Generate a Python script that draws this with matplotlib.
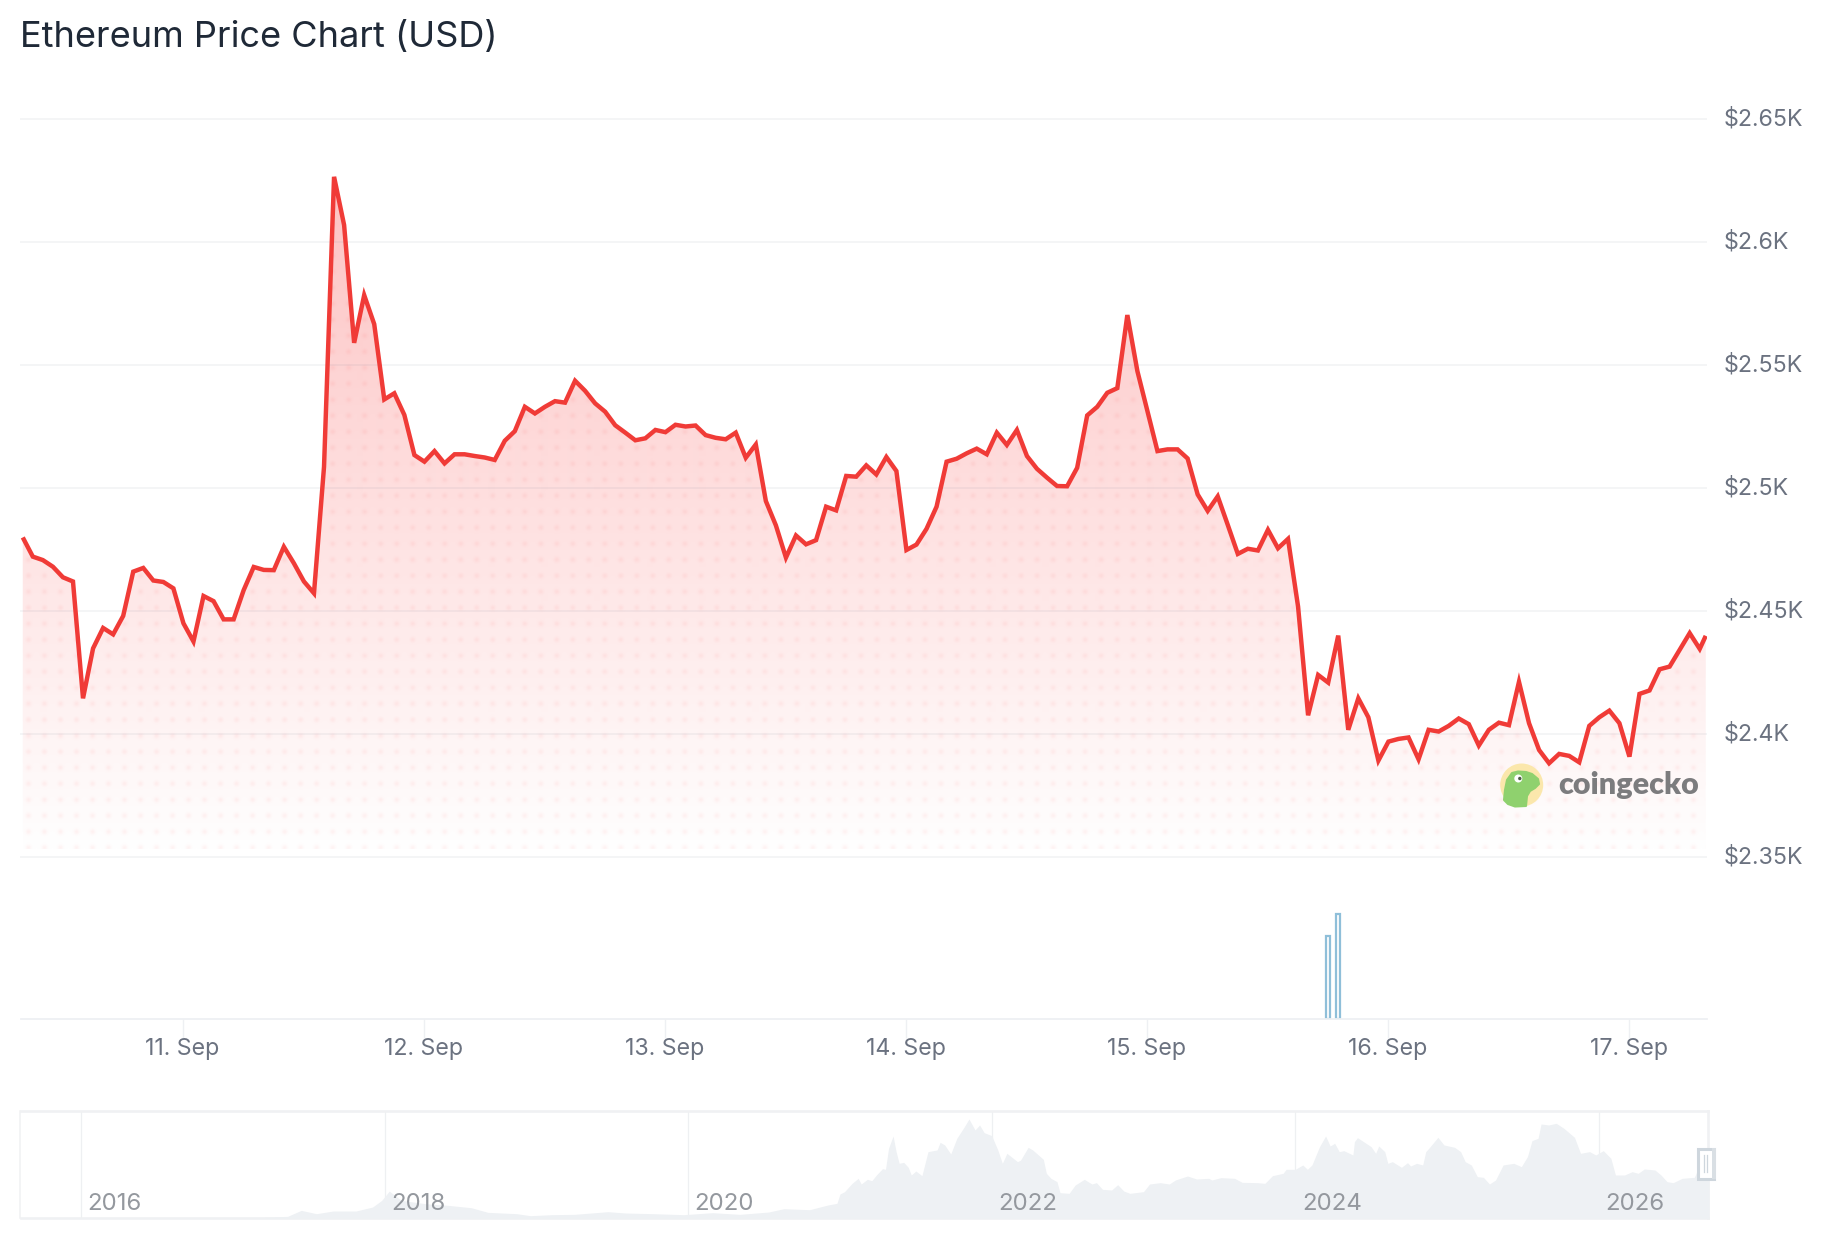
import numpy as np
import pandas as pd
import matplotlib
matplotlib.use("Agg")
import matplotlib.pyplot as plt
import matplotlib.dates as mdates
from matplotlib.path import Path
from matplotlib.patches import PathPatch, Circle, Polygon, Rectangle
from matplotlib.transforms import ScaledTranslation

plt.rcParams['font.family'] = ['Inter', 'DejaVu Sans']

# ---------- data ----------
title = "Ethereum Price Chart (USD)"
price_start = "2026-09-10 08:05"
last_time = "2026-09-17 07:41"
prices = [
    2479.9, 2472.1, 2470.7, 2468.0, 2463.7, 2462.0, 2414.5, 2434.8, 2443.1, 2440.5,
    2448.0, 2466.0, 2467.5, 2462.4, 2461.8, 2459.2, 2445.0, 2437.6, 2456.1, 2454.0,
    2446.6, 2446.6, 2458.5, 2467.9, 2466.7, 2466.6, 2476.1, 2469.4, 2462.0, 2457.2,
    2508.6, 2626.5, 2606.9, 2559.0, 2578.4, 2566.6, 2536.0, 2538.5, 2529.7, 2513.4,
    2510.7, 2515.0, 2510.0, 2513.7, 2513.7, 2513.0, 2512.4, 2511.4, 2519.2, 2523.1,
    2533.0, 2530.3, 2533.0, 2535.3, 2534.7, 2543.6, 2539.5, 2534.4, 2531.0, 2525.5,
    2522.5, 2519.4, 2520.2, 2523.6, 2522.7, 2525.7, 2525.0, 2525.4, 2521.5, 2520.4,
    2519.8, 2522.5, 2512.3, 2517.7, 2494.7, 2484.8, 2471.7, 2480.7, 2477.1, 2478.8,
    2492.4, 2490.9, 2504.9, 2504.6, 2509.2, 2505.5, 2512.6, 2506.9, 2474.8, 2477.0,
    2483.4, 2492.4, 2510.7, 2511.9, 2514.1, 2516.0, 2513.7, 2522.5, 2517.5, 2523.6,
    2513.0, 2507.8, 2504.2, 2500.8, 2500.7, 2508.2, 2529.5, 2533.0, 2538.7, 2540.6,
    2570.3, 2547.5, 2531.3, 2515.0, 2515.7, 2515.7, 2512.0, 2497.4, 2490.7, 2496.6,
    2485.0, 2473.2, 2475.3, 2474.6, 2483.0, 2475.5, 2479.3, 2451.8, 2407.6, 2424.0,
    2420.9, 2440.0, 2401.7, 2414.5, 2406.8, 2389.2, 2396.9, 2398.0, 2398.6, 2389.7,
    2401.7, 2401.0, 2403.3, 2406.3, 2404.0, 2395.3, 2401.7, 2404.6, 2403.6, 2421.2,
    2404.4, 2393.5, 2388.1, 2391.9, 2391.1, 2388.5, 2403.3, 2406.8, 2409.5, 2404.4,
    2390.8, 2416.3, 2417.7, 2426.3, 2427.4, 2434.2, 2441.0, 2434.6, 2439.9,
]
volume_hours = [130, 131]
volumes = [8.3, 10.5]
price_ticks = [2350, 2400, 2450, 2500, 2550, 2600, 2650]
price_labels = ["$2.35K", "$2.4K", "$2.45K", "$2.5K", "$2.55K", "$2.6K", "$2.65K"]
day_ticks = ["2026-09-11", "2026-09-12", "2026-09-13", "2026-09-14",
             "2026-09-15", "2026-09-16", "2026-09-17"]
day_labels = ["11. Sep", "12. Sep", "13. Sep", "14. Sep", "15. Sep", "16. Sep", "17. Sep"]

nav_years = [2015.60, 2017.0, 2017.2, 2017.36, 2017.45, 2017.55, 2017.66, 2017.81, 2017.92, 2017.98,
             2018.03, 2018.11, 2018.27, 2018.42, 2018.57, 2018.68, 2018.87, 2018.96, 2019.10, 2019.25,
             2019.47, 2019.59, 2019.77, 2019.97, 2020.16, 2020.34, 2020.53, 2020.63, 2020.80, 2020.92,
             2020.98, 2021.00, 2021.03, 2021.08, 2021.12, 2021.14, 2021.18, 2021.21, 2021.24, 2021.28,
             2021.30, 2021.32, 2021.35, 2021.37, 2021.39, 2021.42, 2021.45, 2021.47, 2021.50, 2021.54,
             2021.58, 2021.64, 2021.66, 2021.69, 2021.73, 2021.77, 2021.82, 2021.85, 2021.89, 2021.92,
             2021.95, 2022.00, 2022.04, 2022.07, 2022.10, 2022.15, 2022.17, 2022.19, 2022.24, 2022.27,
             2022.34, 2022.36, 2022.39, 2022.43, 2022.45, 2022.51, 2022.55, 2022.61, 2022.66, 2022.69,
             2022.73, 2022.79, 2022.83, 2022.87, 2022.91, 2023.00, 2023.04, 2023.11, 2023.17, 2023.21,
             2023.29, 2023.35, 2023.43, 2023.45, 2023.51, 2023.60, 2023.65, 2023.75, 2023.80, 2023.85,
             2023.92, 2023.94, 2024.00, 2024.05, 2024.08, 2024.11, 2024.16, 2024.20, 2024.23, 2024.26,
             2024.29, 2024.32, 2024.38, 2024.39, 2024.41, 2024.45, 2024.50, 2024.53, 2024.55, 2024.59,
             2024.61, 2024.64, 2024.70, 2024.74, 2024.76, 2024.80, 2024.84, 2024.86, 2024.88, 2024.94,
             2024.98, 2025.05, 2025.09, 2025.12, 2025.16, 2025.20, 2025.24, 2025.28, 2025.32, 2025.37,
             2025.44, 2025.49, 2025.53, 2025.56, 2025.60, 2025.62, 2025.67, 2025.72, 2025.77, 2025.84,
             2025.88, 2025.94, 2025.98, 2026.03, 2026.08, 2026.11, 2026.17, 2026.22, 2026.26, 2026.30,
             2026.37, 2026.41, 2026.45, 2026.49, 2026.55, 2026.63, 2026.66, 2026.725]
nav_prices = [0, 10, 20, 80, 368, 208, 336, 336, 528, 848,
              1296, 848, 688, 608, 496, 272, 208, 112, 160, 176,
              304, 240, 208, 160, 256, 176, 288, 448, 400, 626,
              706, 1156, 1269, 1671, 1912, 1638, 1863, 1799, 2072, 2378,
              2346, 3358, 3953, 3197, 2635, 2683, 2442, 2072, 2265, 2040,
              3197, 3278, 3647, 3519, 3085, 3840, 4403, 4772, 4242, 4483,
              4113, 3969, 3278, 2635, 3117, 2828, 2715, 2790, 3406, 3278,
              2828, 2153, 1912, 1751, 1221, 1188, 1590, 1863, 1638, 1703,
              1381, 1349, 1606, 1301, 1188, 1269, 1638, 1703, 1638, 1831,
              2024, 1880, 1912, 1831, 1944, 1912, 1719, 1703, 1671, 2040,
              2153, 2346, 2346, 2555, 2346, 2555, 3438, 3953, 3470, 3599,
              3197, 3245, 3037, 3679, 3872, 3679, 3438, 3117, 3470, 3197,
              2635, 2715, 2442, 2667, 2506, 2635, 2555, 3197, 3358, 3888,
              3519, 3406, 3197, 2715, 2555, 1992, 1960, 1638, 1831, 2555,
              2635, 2474, 2956, 3728, 3840, 4531, 4483, 4563, 4322, 3888,
              3117, 3197, 3037, 3245, 2876, 2072, 2072, 2233, 2153, 2362,
              2314, 2072, 1751, 1703, 1912, 1960, 2474, 2555]
nav_year_ticks = [2016, 2018, 2020, 2022, 2024, 2026]

# ---------- layout (pixels) ----------
W, H = 1824, 1248
PLOT_L, PLOT_R = 20.5, 1707.0
MAIN_T, MAIN_B = 119.0, 857.0
VOL_T, VOL_B = 880.0, 1018.5
NAV_L, NAV_R, NAV_T, NAV_B = 20.5, 1708.0, 1110.5, 1218.0


def rect(l, t, r, b):
    return [l / W, 1 - b / H, (r - l) / W, (b - t) / H]


RED = '#f03b37'
GRID = (0.42, 0.46, 0.55, 0.09)
LABEL = '#6b7280'
LIGHT = '#eef0f3'

times = list(pd.date_range(price_start, periods=len(prices) - 1, freq='h')) + [pd.Timestamp(last_time)]
tnum = mdates.date2num(times)
day0 = mdates.date2num(pd.Timestamp(day_ticks[0]))
px_per_day = 241.0
x_left = day0 + (PLOT_L - 182.6) / px_per_day
x_right = day0 + (PLOT_R - 182.6) / px_per_day

fig = plt.figure(figsize=(W / 100, H / 100), dpi=100, facecolor='white')

# ---------- main price panel ----------
ax = fig.add_axes(rect(PLOT_L, MAIN_T, PLOT_R, MAIN_B))
ax.set_facecolor('none')
for s in ax.spines.values():
    s.set_visible(False)

ih, iw = int(MAIN_B - MAIN_T), int(PLOT_R - PLOT_L)
yy, xx = np.mgrid[0:ih, 0:iw]
ypx = yy + MAIN_T + 0.5
xpx = xx + PLOT_L + 0.5
alpha = np.clip(0.00046 * (MAIN_B - ypx), 0, 1)
dx = (xpx - 28 + 8) % 16 - 8
dy = (ypx - 623.7 + 8) % 16 - 8
dots = 0.06 * np.exp(-(dx ** 2 + dy ** 2) / (2 * 1.9 ** 2))
alpha = np.clip(alpha + dots * (MAIN_B - ypx > 8), 0, 1)
rgba = np.zeros((ih, iw, 4))
rgba[..., 0] = 250 / 255
rgba[..., 1] = 60 / 255
rgba[..., 2] = 60 / 255
rgba[..., 3] = alpha
im = ax.imshow(rgba, extent=[x_left, x_right, price_ticks[0], price_ticks[-1]],
               aspect='auto', origin='upper', interpolation='bilinear', zorder=1)
verts = [(tnum[0], price_ticks[0])] + list(zip(tnum, prices)) + [(tnum[-1], price_ticks[0]), (tnum[0], price_ticks[0])]
clip = PathPatch(Path(verts), transform=ax.transData, facecolor='none', edgecolor='none')
ax.add_patch(clip)
im.set_clip_path(clip)

for t in price_ticks:
    ax.axhline(t, color=GRID, lw=1.1, zorder=2, clip_on=False, solid_capstyle='butt')
ax.plot(tnum, prices, color=RED, lw=3.2, solid_joinstyle='miter', solid_capstyle='butt', zorder=3)
ax.set_xlim(x_left, x_right)
ax.set_ylim(price_ticks[0], price_ticks[-1])
ax.set_xticks([])
ax.yaxis.tick_right()
ax.set_yticks(price_ticks)
ax.set_yticklabels(price_labels)
ax.tick_params(axis='y', length=0, pad=11.7, labelsize=16.7, labelcolor=LABEL)
for lab in ax.get_yticklabels():
    lab.set_transform(lab.get_transform() + ScaledTranslation(0, 1.8 / 72, fig.dpi_scale_trans))

# ---------- volume panel ----------
vax = fig.add_axes(rect(PLOT_L, VOL_T, PLOT_R, VOL_B))
vax.set_facecolor('none')
for k, s in vax.spines.items():
    s.set_visible(k == 'bottom')
vax.spines['bottom'].set_color(LIGHT)
vax.spines['bottom'].set_linewidth(1.3)
vol_t = [tnum[h] for h in volume_hours]
vax.bar(vol_t, volumes, width=0.45 / 24, facecolor='white', edgecolor='#8fbfd9', linewidth=1.6)
vax.set_xlim(x_left, x_right)
vax.set_ylim(0, 13.85)
vax.set_yticks([])
vax.set_xticks([mdates.date2num(pd.Timestamp(d)) for d in day_ticks])
vax.set_xticklabels(day_labels)
vax.tick_params(axis='x', length=13.5, width=1.0, color=LIGHT, pad=0.8, labelsize=16.7, labelcolor=LABEL)

# ---------- navigator ----------
nax = fig.add_axes(rect(NAV_L, NAV_T, NAV_R, NAV_B))
nax.set_facecolor('none')
for k, s in nax.spines.items():
    s.set_color('#f0f1f3')
    s.set_linewidth(1.1 if k == 'left' else 1.9)
    s.set_zorder(1)
nax.fill_between(nav_years, nav_prices, 0, color='#eef1f4', linewidth=0, zorder=2, clip_on=False)
for y in nav_year_ticks:
    nax.axvline(y, color='#eef0f2', lw=0.9, zorder=1)
    nax.text(y + 0.043, 690, str(y), color='#94989e', fontsize=17.3, ha='left', va='center', zorder=3)
nax.set_xlim(2015.60, 2026.72)
nax.set_ylim(0, 5180)
nax.set_xticks([])
nax.set_yticks([])

# ---------- decoration overlay in pixel coordinates ----------
ov = fig.add_axes([0, 0, 1, 1])
ov.set_xlim(0, W)
ov.set_ylim(H, 0)
ov.axis('off')
ov.patch.set_alpha(0)

# navigator handle
ov.add_patch(Rectangle((1698.5, 1148.5), 15.5, 30, facecolor='white', edgecolor='#ced6dd', lw=2.2))
ov.add_patch(Rectangle((1712, 1148), 4.5, 31, facecolor='#d9dfe4', edgecolor='none'))
ov.plot([1703.7, 1703.7], [1155, 1172], color='#ced6dd', lw=0.9)
ov.plot([1707.4, 1707.4], [1155, 1172], color='#ced6dd', lw=0.9)

# coingecko mark
ov.add_patch(Circle((1521.7, 785), 21.5, facecolor='#fbe7a8', edgecolor='none', alpha=0.95))
gecko = [(1512, 773), (1518, 771.5), (1526, 772), (1532, 774), (1538, 779), (1539, 784), (1535, 788),
         (1530, 791), (1527, 796), (1526, 806), (1515, 806.5), (1508, 804), (1504, 800), (1505, 790), (1507, 780)]
ov.add_patch(Polygon(gecko, closed=True, facecolor='#8fd16e', edgecolor='#8fd16e', lw=1.5, joinstyle='round'))
ov.add_patch(Circle((1518.3, 778.5), 4.0, facecolor='white', edgecolor='none'))
ov.add_patch(Circle((1519.8, 778.5), 1.7, facecolor='#4a5a45', edgecolor='none'))
ov.text(1558, 785, "coingecko", family=['Lato', 'DejaVu Sans'], fontweight='heavy', fontsize=22,
        color='#7c7c7e', ha='left', va='center')

# title
ov.text(20, 38, title, color='#1f2937', fontsize=26.05, ha='left', va='center')

fig.savefig('out.png', dpi=100, facecolor='white')
